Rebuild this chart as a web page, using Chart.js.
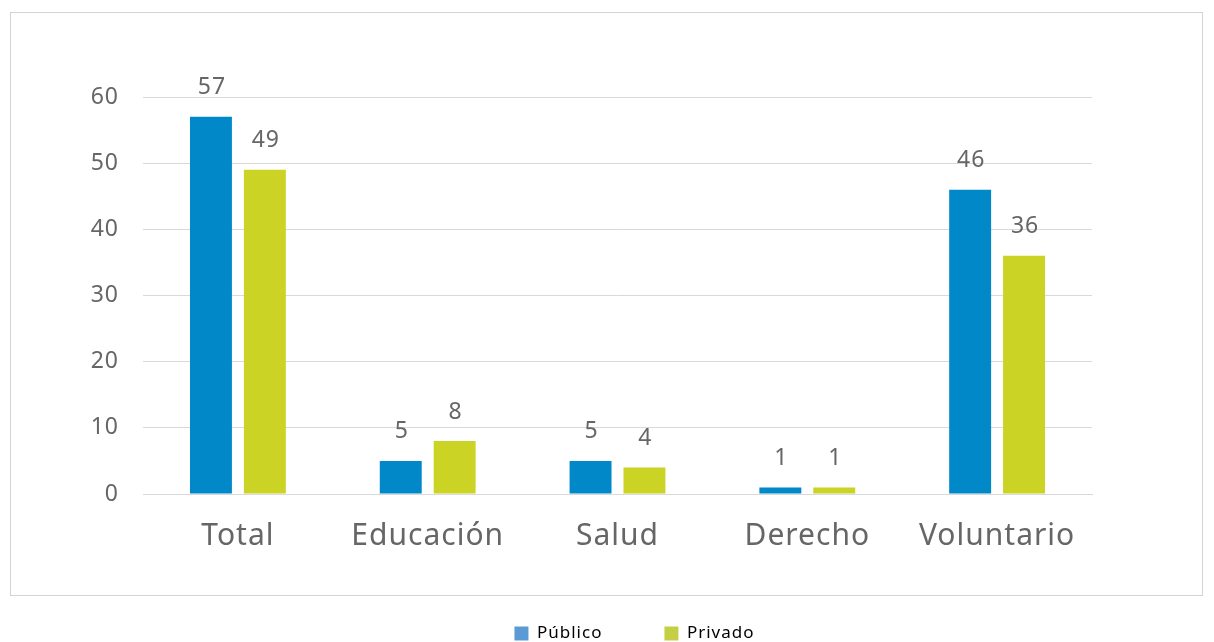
<!DOCTYPE html>
<html>
<head>
<meta charset="utf-8">
<script src="https://cdn.jsdelivr.net/npm/chart.js@4"></script>
<style>
  body { margin: 0; background: #fff; }
  #frame { position: absolute; left: 10px; top: 12px; width: 1191px; height: 582px; border: 1px solid #d4d4d4; }
  #wrap { position: absolute; left: 0; top: 0; width: 1214px; height: 642px; }
</style>
</head>
<body>
<div id="frame"></div>
<div id="wrap"><canvas id="chart" width="1214" height="642"></canvas></div>
<script>
const categories = ["Total", "Educación", "Salud", "Derecho", "Voluntario"];
const publico = [57, 5, 5, 1, 46];
const privado = [49, 8, 4, 1, 36];
const yTicks = [0, 10, 20, 30, 40, 50, 60];

const FONT = "'Noto Sans', sans-serif";
const TEXT = "#666666";

// slightly wider letter spacing, like the original typeface
const spacing = {
  id: "spacing",
  beforeLayout(chart) { chart.ctx.letterSpacing = "1px"; },
  beforeDraw(chart) { chart.ctx.letterSpacing = "1px"; }
};

// value labels above each bar
const valueLabels = {
  id: "valueLabels",
  afterDatasetsDraw(chart) {
    const ctx = chart.ctx;
    ctx.save();
    ctx.font = "23px " + FONT;
    ctx.fillStyle = TEXT;
    ctx.textAlign = "center";
    ctx.textBaseline = "middle";
    chart.data.datasets.forEach((ds, i) => {
      chart.getDatasetMeta(i).data.forEach((bar, j) => {
        ctx.fillText(ds.data[j], bar.x + 1, bar.y - 29);
      });
    });
    ctx.restore();
  }
};

new Chart(document.getElementById("chart"), {
  type: "bar",
  data: {
    labels: categories,
    datasets: [
      { label: "Público", data: publico, backgroundColor: "#0088c8", legendColor: "#5b9bd5" },
      { label: "Privado", data: privado, backgroundColor: "#cbd325", legendColor: "#c4cf45" }
    ]
  },
  options: {
    responsive: false,
    animation: false,
    datasets: { bar: { categoryPercentage: 0.568, barPercentage: 0.778 } },
    layout: { padding: { top: 97, right: 0, left: 55, bottom: -10 } },
    scales: {
      x: {
        grid: { display: false, drawTicks: false },
        border: { color: "#d9d9d9" },
        ticks: { color: TEXT, font: { family: FONT, size: 30 }, padding: 24 },
        afterFit(scale) { scale.height = 69; }
      },
      y: {
        min: 0,
        max: 60,
        afterBuildTicks(scale) { scale.ticks = yTicks.map(v => ({ value: v })); },
        grid: { color: "#d9d9d9", drawTicks: false },
        border: { display: false },
        ticks: { color: TEXT, font: { family: FONT, size: 23 }, padding: 24 },
        afterFit(scale) { scale.width = 88; }
      },
      yRight: {
        position: "right",
        min: 0,
        max: 60,
        grid: { display: false, drawTicks: false },
        border: { display: false },
        ticks: { display: false },
        afterFit(scale) { scale.width = 122; }
      }
    },
    plugins: {
      tooltip: { enabled: false },
      legend: {
        position: "bottom",
        labels: {
          color: "#000",
          font: { family: FONT, size: 17 },
          boxWidth: 14,
          boxHeight: 14,
          padding: 62,
          generateLabels(chart) {
            return chart.data.datasets.map((ds, i) => ({
              text: ds.label,
              fillStyle: ds.legendColor,
              strokeStyle: ds.legendColor,
              lineWidth: 0,
              datasetIndex: i,
              fontColor: "#000"
            }));
          }
        }
      }
    }
  },
  plugins: [spacing, valueLabels]
});
</script>
</body>
</html>
